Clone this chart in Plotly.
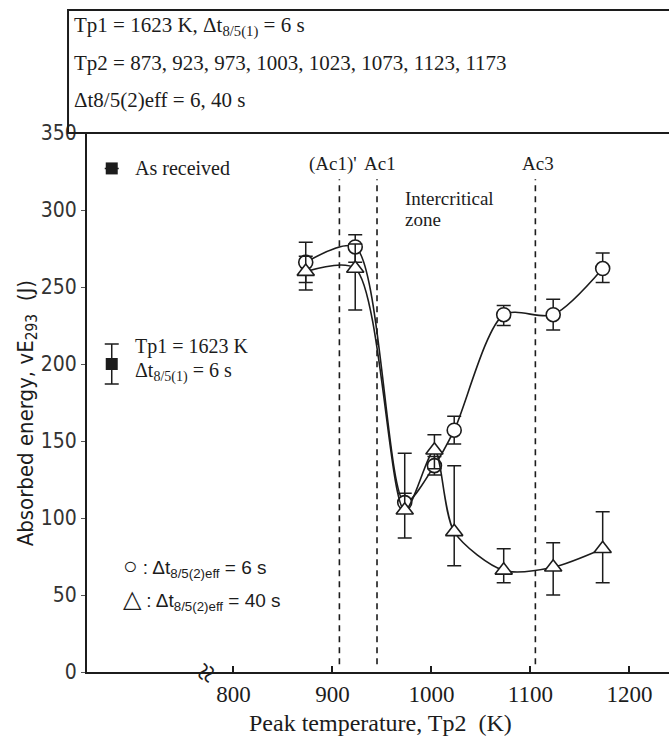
import plotly.graph_objects as go

# ---------------- data ----------------
peak_T = [873, 923, 973, 1003, 1023, 1073, 1123, 1173]

E_6s = [266, 276, 110, 134, 157, 232, 232, 262]
E_6s_err_up = [13, 8, 6, 6, 9, 6, 10, 10]
E_6s_err_dn = [13, 10, 6, 6, 9, 7, 10, 9]

E_40s = [260, 262, 105, 144, 91, 66, 68, 80]
E_40s_err_up = [10, 16, 37, 10, 43, 14, 16, 24]
E_40s_err_dn = [12, 27, 18, 12, 22, 8, 18, 22]

ref_names = ["As received", "Tp1 = 1623 K"]
ref_E = [327, 200]
ref_err = [0, 13]

transform_T = [907, 945, 1105]
transform_labels = ["(Ac1)'", "Ac1", "Ac3"]

x_ticks = [800, 900, 1000, 1100, 1200]
y_ticks = [0, 50, 100, 150, 200, 250, 300, 350]

# ---------------- styling ----------------
SERIF = "Liberation Serif, Times New Roman, serif"
SANS = "Liberation Sans Narrow, DejaVu Sans Condensed, Liberation Sans, Arial, sans-serif"
KEYFONT = "Liberation Sans, Arial, sans-serif"
INK = "#1c1c1c"
REF_X = 677          # x position for the reference (single cycle) points
X_RANGE = [652, 1240]

fig = go.Figure()

# transformation temperature dashed lines
for t in transform_T:
    fig.add_trace(go.Scatter(
        x=[t, t], y=[5, 320], mode="lines",
        line=dict(color=INK, width=1.6, dash="6px,5px"),
        hoverinfo="skip", showlegend=False))

# Δt8/5(2)eff = 6 s (circles)
fig.add_trace(go.Scatter(
    x=peak_T, y=E_6s, mode="lines+markers",
    line=dict(color=INK, width=1.6, shape="spline", smoothing=0.8),
    marker=dict(symbol="circle", size=14, color="white",
                line=dict(color=INK, width=1.6)),
    error_y=dict(type="data", symmetric=False, array=E_6s_err_up,
                 arrayminus=E_6s_err_dn, color=INK, thickness=1.5, width=7),
    showlegend=False))

# Δt8/5(2)eff = 40 s (triangles)
fig.add_trace(go.Scatter(
    x=peak_T, y=E_40s, mode="lines+markers",
    line=dict(color=INK, width=1.6, shape="spline", smoothing=0.8),
    marker=dict(symbol="triangle-up", size=15, color="white",
                line=dict(color=INK, width=1.6)),
    error_y=dict(type="data", symmetric=False, array=E_40s_err_up,
                 arrayminus=E_40s_err_dn, color=INK, thickness=1.5, width=7),
    showlegend=False))

# reference points (filled squares)
fig.add_trace(go.Scatter(
    x=[REF_X] * len(ref_E), y=ref_E, mode="markers",
    marker=dict(symbol="square", size=12, color=INK),
    error_y=dict(type="data", array=ref_err, color=INK, thickness=1.5, width=7),
    showlegend=False))

ann = []
def txt(x, y, s, size=20, font=SERIF, xanchor="left", xref="paper", yref="paper", angle=0):
    ann.append(dict(x=x, y=y, xref=xref, yref=yref, text=s, showarrow=False,
                    xanchor=xanchor, yanchor="middle", textangle=angle,
                    font=dict(family=font, size=size, color=INK)))

# top information box text
txt(-0.026, 1.197, "Tp1 = 1623 K, Δt<sub>8/5(1)</sub> = 6 s", size=21)
txt(-0.026, 1.130, "Tp2 = 873, 923, 973, 1003, 1023, 1073, 1123, 1173", size=21)
txt(-0.026, 1.061, "Δt8/5(2)eff = 6, 40 s", size=21)

# reference labels
txt(0.079, 0.935, ref_names[0], size=20)
txt(0.079, 0.603, ref_names[1], size=20)
txt(0.079, 0.557, "Δt<sub>8/5(1)</sub> = 6 s", size=20)

# series key
txt(0.058, 0.195, "<span style='font-size:24px'>○</span> : Δt<sub>8/5(2)eff</sub> = 6 s",
    size=19, font=KEYFONT)
txt(0.058, 0.134, "<span style='font-size:24px'>△</span> : Δt<sub>8/5(2)eff</sub> = 40 s",
    size=19, font=KEYFONT)

# transformation labels
for t, lab, dx in zip(transform_T, transform_labels, [-6, 3, 3]):
    ann.append(dict(x=t, y=330, xref="x", yref="y", text=lab, showarrow=False,
                    xanchor="center", yanchor="middle", xshift=dx,
                    font=dict(family=SERIF, size=19, color=INK)))
txt(0.543, 0.879, "Intercritical", size=19)
txt(0.543, 0.839, "zone", size=19)

# axis titles
txt(-0.103, 0.48, "Absorbed energy, vE<sub>293</sub>  (J)", size=22, font=SANS,
    xanchor="center", angle=-90)
txt(0.505, -0.095, "Peak temperature, Tp2  (K)", size=24, xanchor="center")

# axis break mark
ann.append(dict(x=772, y=0, xref="x", yref="y", text="≈", showarrow=False,
                textangle=-65, xanchor="center", yanchor="middle",
                font=dict(family=SERIF, size=34, color=INK)))

fig.update_layout(
    width=669, height=740,
    margin=dict(l=87, r=0, t=133, b=68),
    paper_bgcolor="white", plot_bgcolor="white",
    annotations=ann,
    shapes=[dict(type="rect", xref="paper", yref="paper",
                 x0=-0.0326, x1=1.02, y0=1.0, y1=1.228,
                 line=dict(color=INK, width=2))],
    showlegend=False,
)

fig.update_xaxes(
    range=X_RANGE, tickvals=x_ticks, ticktext=[str(v) for v in x_ticks],
    showline=True, linecolor=INK, linewidth=2, showgrid=False, zeroline=False,
    ticks="inside", ticklen=6, tickwidth=1.5, tickcolor=INK,
    tickfont=dict(family=SERIF, size=23, color=INK),
)
fig.update_yaxes(
    range=[0, 350], tickvals=y_ticks, ticktext=[str(v) for v in y_ticks],
    showline=True, linecolor=INK, linewidth=2, showgrid=False, zeroline=False,
    ticks="outside", ticklen=4, tickwidth=1.2, tickcolor="#555",
    tickfont=dict(family=SANS, size=21, color="#333"),
)

fig.write_html("out.html")
